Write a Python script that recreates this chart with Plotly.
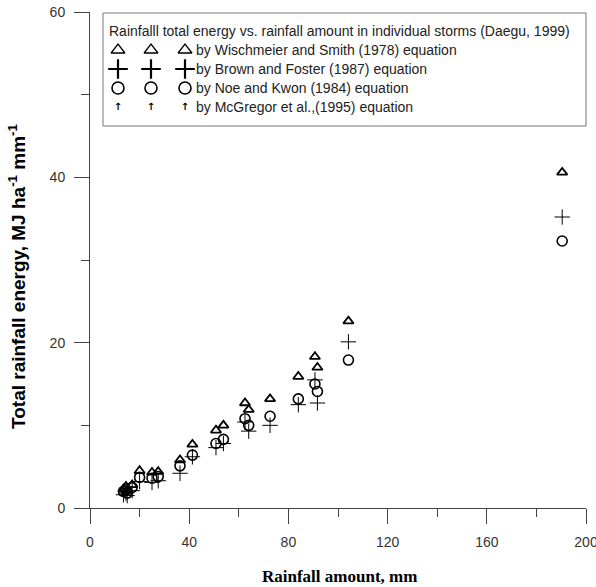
import plotly.graph_objects as go

# ---------------- data ----------------
rainfall_mm = [13.5, 14.5, 15.0, 17.0, 20.0, 25.0, 27.5, 36.3, 41.3, 50.8,
               53.8, 62.5, 64.0, 72.6, 84.0, 90.7, 91.7, 104.2, 190.4]
energy_wischmeier = [2.3, 2.6, 2.1, 2.8, 4.5, 4.3, 4.4, 5.8, 7.7, 9.4,
                     10.0, 12.7, 11.9, 13.2, 15.9, 18.3, 17.0, 22.6, 40.6]
energy_brown = [1.6, 1.8, 1.5, 2.1, 3.2, 3.1, 3.3, 4.2, 6.2, 7.3,
                7.8, 10.4, 9.3, 10.0, 12.5, 15.5, 12.7, 20.1, 35.2]
energy_noe = [2.0, 2.2, 1.8, 2.5, 3.7, 3.6, 3.8, 5.1, 6.4, 7.8,
              8.3, 10.8, 10.0, 11.1, 13.2, 15.0, 14.1, 17.9, 32.3]

legend_title = "Rainfalll total energy vs. rainfall amount in individual storms (Daegu, 1999)"
legend_labels = ["by Wischmeier and Smith (1978) equation",
                 "by Brown and Foster (1987) equation",
                 "by Noe and Kwon (1984) equation",
                 "by McGregor et al.,(1995) equation"]

x_ticks = [0, 40, 80, 120, 160, 200]
y_ticks = [0, 20, 40, 60]

# ---------------- layout constants ----------------
W, H = 596, 587
L, R, T, B = 90, 10, 12, 79
PW, PH = W - L - R, H - T - B

def px(x):
    return (x - L) / PW

def py(y):
    return (H - B - y) / PH

AX = "#444444"
TXT = "#222222"

fig = go.Figure()

fig.add_trace(go.Scatter(
    x=rainfall_mm, y=energy_brown, mode="markers", name="Brown",
    marker=dict(symbol="cross-thin", size=11, color="black",
                line=dict(color="black", width=1)),
    cliponaxis=False, showlegend=False))
fig.add_trace(go.Scatter(
    x=rainfall_mm, y=energy_noe, mode="markers", name="Noe",
    marker=dict(symbol="circle-open", size=10, color="black",
                line=dict(color="black", width=1.6)),
    cliponaxis=False, showlegend=False))
fig.add_trace(go.Scatter(
    x=rainfall_mm, y=energy_wischmeier, mode="markers", name="Wischmeier",
    marker=dict(symbol="triangle-up-open", size=9, color="black",
                line=dict(color="black", width=1.8)),
    cliponaxis=False, showlegend=False))

# ---------------- custom legend (three symbols per row) ----------------
leg_sym_x = [118, 151, 185]
leg_rows_y = [50, 69, 88, 107]
leg_styles = [
    dict(symbol="triangle-up-open", size=12, color="black", line=dict(color="black", width=1.3)),
    dict(symbol="cross-thin", size=14, color="black", line=dict(color="black", width=2.2)),
    dict(symbol="circle-open", size=12, color="black", line=dict(color="black", width=1.6)),
]
for ry, st in zip(leg_rows_y[:3], leg_styles):
    fig.add_trace(go.Scatter(
        x=leg_sym_x, y=[ry] * 3, mode="markers", marker=st,
        xaxis="x2", yaxis="y2", showlegend=False, hoverinfo="skip",
        cliponaxis=False))
fig.add_trace(go.Scatter(
    x=leg_sym_x, y=[leg_rows_y[3]] * 3, mode="text", text=["<b>↑</b>"] * 3,
    textfont=dict(family="DejaVu Sans", size=10, color="black"),
    textposition="middle center",
    xaxis="x2", yaxis="y2", showlegend=False, hoverinfo="skip", cliponaxis=False))

fig.add_shape(type="rect", xref="paper", yref="paper",
              x0=px(103), x1=px(586), y0=py(126), y1=py(13),
              line=dict(color="#777777", width=1), fillcolor="rgba(0,0,0,0)")
fig.add_annotation(x=px(107), y=py(31), xref="paper", yref="paper",
                   text=legend_title, showarrow=False, xanchor="left", yanchor="middle",
                   font=dict(family="Liberation Sans, Arial", size=14, color=TXT))
for ry, lab in zip(leg_rows_y, legend_labels):
    fig.add_annotation(x=px(194), y=py(ry), xref="paper", yref="paper",
                       text=lab, showarrow=False, xanchor="left", yanchor="middle",
                       font=dict(family="Liberation Sans, Arial", size=14, color=TXT))

# ---------------- axis titles ----------------
fig.add_annotation(x=px(339), y=py(576), xref="paper", yref="paper",
                   text="<b>Rainfall amount, mm</b>", showarrow=False,
                   xanchor="center", yanchor="middle",
                   font=dict(family="Liberation Serif, Times New Roman", size=17, color="black"))
fig.add_annotation(x=px(17), y=py(277), xref="paper", yref="paper",
                   text="<b>Total rainfall energy, MJ ha<sup>-1</sup> mm<sup>-1</sup></b>",
                   showarrow=False, textangle=-90, xanchor="center", yanchor="middle",
                   font=dict(family="Liberation Sans, Arial", size=19, color="black"))

axis_common = dict(
    showgrid=False, zeroline=False, showline=True, linecolor=AX, linewidth=1,
    ticks="outside", ticklen=15, tickwidth=1, tickcolor=AX, automargin=False,
    ticklabeloverflow="allow",
    tickfont=dict(family="Liberation Sans, Arial", size=14, color="#333333"),
)

fig.update_layout(
    width=W, height=H,
    margin=dict(l=L, r=R, t=T, b=B, autoexpand=False),
    paper_bgcolor="white", plot_bgcolor="white",
    showlegend=False,
    xaxis=dict(range=[0, 200], tickvals=x_ticks, ticktext=[str(v) for v in x_ticks],
               minor=dict(ticks="outside", ticklen=8, tickwidth=1, tickcolor=AX, dtick=20, tick0=0),
               ticklabelstandoff=6, **axis_common),
    yaxis=dict(range=[0, 60], tickvals=y_ticks, ticktext=[str(v) for v in y_ticks],
               minor=dict(ticks="outside", ticklen=8, tickwidth=1, tickcolor=AX, dtick=10, tick0=0),
               ticklabelstandoff=6, **axis_common),
    xaxis2=dict(overlaying="x", range=[L, W - R], visible=False),
    yaxis2=dict(overlaying="y", range=[H - B, T], visible=False),
)

fig.write_html("out.html", config={"displayModeBar": False},
               post_script="document.body.style.margin='0';document.body.style.overflow='hidden';")
